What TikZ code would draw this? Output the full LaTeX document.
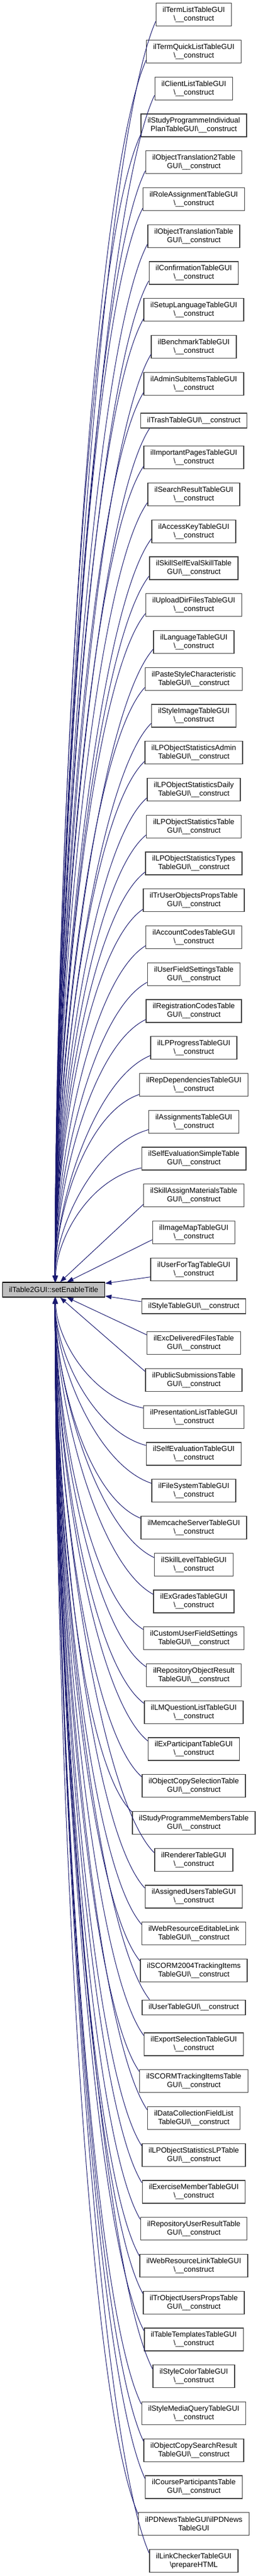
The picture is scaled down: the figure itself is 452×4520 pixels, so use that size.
\documentclass[tikz,border=0pt]{standalone}
\usepackage{fontspec}
\setmainfont{Liberation Sans}
\usepackage{tikz}
\usetikzlibrary{arrows.meta,positioning,calc}

\definecolor{edgeblue}{HTML}{191970}
\definecolor{boxgray}{HTML}{404040}
\definecolor{fillgray}{HTML}{BFBFBF}
\newcommand{\ctor}{\textbackslash\_\_construct}

\begin{document}
\begin{tikzpicture}[x=1pt,y=1pt,
  fn/.style={rectangle,draw=boxgray,line width=1.3pt,fill=white,align=center,
    inner xsep=11.5pt,inner ysep=2pt,minimum height=40pt,font=\fontsize{13}{15}\selectfont},
  fn1/.style={fn,minimum height=26pt},
  call/.style={draw=edgeblue,line width=1pt,-{Triangle[length=11pt,width=8pt]}},
  far/.style={to path={.. controls ($(\tikztostart)!.1!(\tikztotarget)+(-80,0)$)
    and ($(\tikztotarget)!.35!(\tikztotarget |- \tikztostart)$) .. (\tikztotarget) \tikztonodes}}]
\useasboundingbox (0,0) rectangle (452,-4520);

% Called function
\node[fn1,draw=black,fill=fillgray] (s1) at (94,-2263) {ilTable2GUI::setEnableTitle};

% Callers
\node[fn] (t1) at (339.5,-25.7) {ilTermListTableGUI\\\ctor};
\node[fn] (t2) at (339.5,-90.5) {ilTermQuickListTableGUI\\\ctor};
\node[fn] (t3) at (339.5,-155.2) {ilClientListTableGUI\\\ctor};
\node[fn] (t4) at (339.5,-220) {ilStudyProgrammeIndividual\\PlanTableGUI\ctor};
\node[fn] (t5) at (339.5,-284.7) {ilObjectTranslation2Table\\GUI\ctor};
\node[fn] (t6) at (339.5,-349.5) {ilRoleAssignmentTableGUI\\\ctor};
\node[fn] (t7) at (339.5,-414.2) {ilObjectTranslationTable\\GUI\ctor};
\node[fn] (t8) at (339.5,-479) {ilConfirmationTableGUI\\\ctor};
\node[fn] (t9) at (339.5,-543.7) {ilSetupLanguageTableGUI\\\ctor};
\node[fn] (t10) at (339.5,-608.5) {ilBenchmarkTableGUI\\\ctor};
\node[fn] (t11) at (339.5,-673.2) {ilAdminSubItemsTableGUI\\\ctor};
\node[fn1] (t12) at (339.5,-738) {ilTrashTableGUI\ctor};
\node[fn] (t13) at (339.5,-802.7) {ilImportantPagesTableGUI\\\ctor};
\node[fn] (t14) at (339.5,-867.5) {ilSearchResultTableGUI\\\ctor};
\node[fn] (t15) at (339.5,-932.2) {ilAccessKeyTableGUI\\\ctor};
\node[fn] (t16) at (339.5,-997) {ilSkillSelfEvalSkillTable\\GUI\ctor};
\node[fn] (t17) at (339.5,-1061.7) {ilUploadDirFilesTableGUI\\\ctor};
\node[fn] (t18) at (339.5,-1126.5) {ilLanguageTableGUI\\\ctor};
\node[fn] (t19) at (339.5,-1191.2) {ilPasteStyleCharacteristic\\TableGUI\ctor};
\node[fn] (t20) at (339.5,-1256) {ilStyleImageTableGUI\\\ctor};
\node[fn] (t21) at (339.5,-1320.7) {ilLPObjectStatisticsAdmin\\TableGUI\ctor};
\node[fn] (t22) at (339.5,-1385.5) {ilLPObjectStatisticsDaily\\TableGUI\ctor};
\node[fn] (t23) at (339.5,-1450.2) {ilLPObjectStatisticsTable\\GUI\ctor};
\node[fn] (t24) at (339.5,-1515) {ilLPObjectStatisticsTypes\\TableGUI\ctor};
\node[fn] (t25) at (339.5,-1579.7) {ilTrUserObjectsPropsTable\\GUI\ctor};
\node[fn] (t26) at (339.5,-1644.5) {ilAccountCodesTableGUI\\\ctor};
\node[fn] (t27) at (339.5,-1709.2) {ilUserFieldSettingsTable\\GUI\ctor};
\node[fn] (t28) at (339.5,-1774) {ilRegistrationCodesTable\\GUI\ctor};
\node[fn] (t29) at (339.5,-1838.7) {ilLPProgressTableGUI\\\ctor};
\node[fn] (t30) at (339.5,-1903.5) {ilRepDependenciesTableGUI\\\ctor};
\node[fn] (t31) at (339.5,-1968.2) {ilAssignmentsTableGUI\\\ctor};
\node[fn] (t32) at (339.5,-2033) {ilSelfEvaluationSimpleTable\\GUI\ctor};
\node[fn] (t33) at (339.5,-2097.7) {ilSkillAssignMaterialsTable\\GUI\ctor};
\node[fn] (t34) at (339.5,-2162.5) {ilImageMapTableGUI\\\ctor};
\node[fn] (t35) at (339.5,-2227.2) {ilUserForTagTableGUI\\\ctor};
\node[fn1] (t36) at (339.5,-2292) {ilStyleTableGUI\ctor};
\node[fn] (t37) at (339.5,-2356.7) {ilExcDeliveredFilesTable\\GUI\ctor};
\node[fn] (t38) at (339.5,-2421.5) {ilPublicSubmissionsTable\\GUI\ctor};
\node[fn] (t39) at (339.5,-2486.2) {ilPresentationListTableGUI\\\ctor};
\node[fn] (t40) at (339.5,-2551) {ilSelfEvaluationTableGUI\\\ctor};
\node[fn] (t41) at (339.5,-2615.7) {ilFileSystemTableGUI\\\ctor};
\node[fn] (t42) at (339.5,-2680.5) {ilMemcacheServerTableGUI\\\ctor};
\node[fn] (t43) at (339.5,-2745.2) {ilSkillLevelTableGUI\\\ctor};
\node[fn] (t44) at (339.5,-2810) {ilExGradesTableGUI\\\ctor};
\node[fn] (t45) at (339.5,-2874.7) {ilCustomUserFieldSettings\\TableGUI\ctor};
\node[fn] (t46) at (339.5,-2939.5) {ilRepositoryObjectResult\\TableGUI\ctor};
\node[fn] (t47) at (339.5,-3004.2) {ilLMQuestionListTableGUI\\\ctor};
\node[fn] (t48) at (339.5,-3069) {ilExParticipantTableGUI\\\ctor};
\node[fn] (t49) at (339.5,-3133.7) {ilObjectCopySelectionTable\\GUI\ctor};
\node[fn] (t50) at (339.5,-3198.5) {ilStudyProgrammeMembersTable\\GUI\ctor};
\node[fn] (t51) at (339.5,-3263.2) {ilRendererTableGUI\\\ctor};
\node[fn] (t52) at (339.5,-3328) {ilAssignedUsersTableGUI\\\ctor};
\node[fn] (t53) at (339.5,-3392.7) {ilWebResourceEditableLink\\TableGUI\ctor};
\node[fn] (t54) at (339.5,-3457.5) {ilSCORM2004TrackingItems\\TableGUI\ctor};
\node[fn1] (t55) at (339.5,-3522.2) {ilUserTableGUI\ctor};
\node[fn] (t56) at (339.5,-3587) {ilExportSelectionTableGUI\\\ctor};
\node[fn] (t57) at (339.5,-3651.7) {ilSCORMTrackingItemsTable\\GUI\ctor};
\node[fn] (t58) at (339.5,-3716.5) {ilDataCollectionFieldList\\TableGUI\ctor};
\node[fn] (t59) at (339.5,-3781.2) {ilLPObjectStatisticsLPTable\\GUI\ctor};
\node[fn] (t60) at (339.5,-3846) {ilExerciseMemberTableGUI\\\ctor};
\node[fn] (t61) at (339.5,-3910.7) {ilRepositoryUserResultTable\\GUI\ctor};
\node[fn] (t62) at (339.5,-3975.5) {ilWebResourceLinkTableGUI\\\ctor};
\node[fn] (t63) at (339.5,-4040.2) {ilTrObjectUsersPropsTable\\GUI\ctor};
\node[fn] (t64) at (339.5,-4105) {ilTableTemplatesTableGUI\\\ctor};
\node[fn] (t65) at (339.5,-4169.7) {ilStyleColorTableGUI\\\ctor};
\node[fn] (t66) at (339.5,-4234.5) {ilStyleMediaQueryTableGUI\\\ctor};
\node[fn] (t67) at (339.5,-4299.2) {ilObjectCopySearchResult\\TableGUI\ctor};
\node[fn] (t68) at (339.5,-4364) {ilCourseParticipantsTable\\GUI\ctor};
\node[fn] (t69) at (339.5,-4428.7) {ilPDNewsTableGUI\textbackslash ilPDNews\\TableGUI};
\node[fn] (t70) at (339.5,-4493.5) {ilLinkCheckerTableGUI\\\textbackslash prepareHTML};

% Calls from above
\draw[call] (t1.190) to[far] (s1.80);
\draw[call] (t2.190) to[far] (s1.80);
\draw[call] (t3.190) to[far] (s1.80);
\draw[call] (t4.190) to[far] (s1.80);
\draw[call] (t5.190) to[far] (s1.80);
\draw[call] (t6.190) to[far] (s1.80);
\draw[call] (t7.190) to[far] (s1.80);
\draw[call] (t8.190) to[far] (s1.80);
\draw[call] (t9.190) to[far] (s1.80);
\draw[call] (t10.190) to[far] (s1.80);
\draw[call] (t11.190) to[far] (s1.80);
\draw[call] (t12.190) to[far] (s1.80);
\draw[call] (t13.190) to[far] (s1.80);
\draw[call] (t14.190) to[far] (s1.80);
\draw[call] (t15.190) to[far] (s1.80);
\draw[call] (t16.190) to[far] (s1.80);
\draw[call] (t17.190) to[far] (s1.80);
\draw[call] (t18.190) to[far] (s1.80);
\draw[call] (t19.190) to[far] (s1.80);
\draw[call] (t20.190) to[far] (s1.80);
\draw[call] (t21.190) to[far] (s1.80);
\draw[call] (t22.190) to[far] (s1.80);
\draw[call] (t23.190) to[far] (s1.80);
\draw[call] (t24.190) to[far] (s1.80);
\draw[call] (t25.190) to[far] (s1.80);
\draw[call] (t26.190) to[far] (s1.80);
\draw[call] (t27.190) to[far] (s1.80);
\draw[call] (t28.190) to[far] (s1.80);
\draw[call] (t29.190) to[far] (s1.80);
\draw[call] (t30.190) to[far] (s1.80);
\draw[call] (t31.190) to[far] (s1.80);
\draw[call] (t32.190) to[far] (s1.75);
\draw[call] (t33.190) -- (s1.50);
\draw[call] (t34.190) -- (s1.30);
\draw[call] (t35.190) -- (s1.7);

% Calls from below
\draw[call] (t36.175) -- (s1.-7);
\draw[call] (t37.170) -- (s1.-30);
\draw[call] (t38.170) -- (s1.-50);
\draw[call] (t39.170) to[far] (s1.-75);
\draw[call] (t40.170) to[far] (s1.-80);
\draw[call] (t41.170) to[far] (s1.-80);
\draw[call] (t42.170) to[far] (s1.-80);
\draw[call] (t43.170) to[far] (s1.-80);
\draw[call] (t44.170) to[far] (s1.-80);
\draw[call] (t45.170) to[far] (s1.-80);
\draw[call] (t46.170) to[far] (s1.-80);
\draw[call] (t47.170) to[far] (s1.-80);
\draw[call] (t48.170) to[far] (s1.-80);
\draw[call] (t49.170) to[far] (s1.-80);
\draw[call] (t50.170) to[far] (s1.-80);
\draw[call] (t51.170) to[far] (s1.-80);
\draw[call] (t52.170) to[far] (s1.-80);
\draw[call] (t53.170) to[far] (s1.-80);
\draw[call] (t54.170) to[far] (s1.-80);
\draw[call] (t55.170) to[far] (s1.-80);
\draw[call] (t56.170) to[far] (s1.-80);
\draw[call] (t57.170) to[far] (s1.-80);
\draw[call] (t58.170) to[far] (s1.-80);
\draw[call] (t59.170) to[far] (s1.-80);
\draw[call] (t60.170) to[far] (s1.-80);
\draw[call] (t61.170) to[far] (s1.-80);
\draw[call] (t62.170) to[far] (s1.-80);
\draw[call] (t63.170) to[far] (s1.-80);
\draw[call] (t64.170) to[far] (s1.-80);
\draw[call] (t65.170) to[far] (s1.-80);
\draw[call] (t66.170) to[far] (s1.-80);
\draw[call] (t67.170) to[far] (s1.-80);
\draw[call] (t68.170) to[far] (s1.-80);
\draw[call] (t69.170) to[far] (s1.-80);
\draw[call] (t70.170) to[far] (s1.-80);
\end{tikzpicture}
\end{document}
